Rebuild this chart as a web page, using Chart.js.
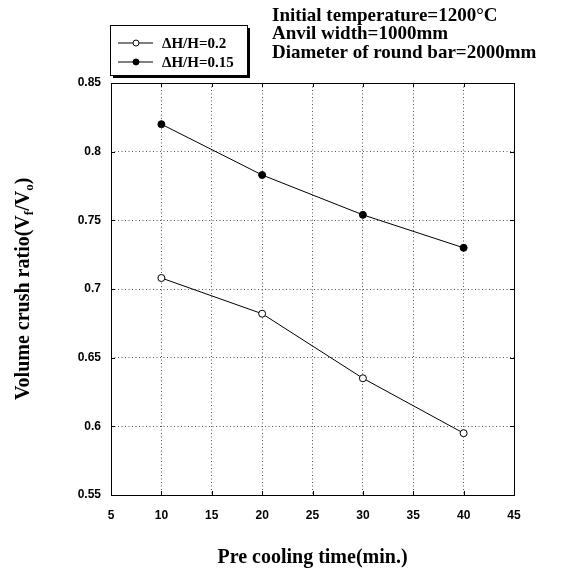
<!DOCTYPE html>
<html>
<head>
<meta charset="utf-8">
<script src="https://cdn.jsdelivr.net/npm/chart.js@4.4.1/dist/chart.umd.min.js"></script>
<style>
  html, body { margin: 0; padding: 0; background: #fff; }
  #wrap { width: 563px; height: 571px; }
</style>
</head>
<body>
<div id="wrap"><canvas id="chart" width="563" height="571"></canvas></div>
<script>
// data
const coolingTimes = [10, 20, 30, 40];
const ratioDH020 = [0.708, 0.682, 0.635, 0.595];
const ratioDH015 = [0.820, 0.783, 0.754, 0.730];
const seriesLabels = ['\u0394H/H=0.2', '\u0394H/H=0.15'];
const xRange = [5, 45];
const xStep = 5;
const yRange = [0.55, 0.85];
const yStep = 0.05;
const notes = ['Initial temperature=1200\u00B0C', 'Anvil width=1000mm', 'Diameter of round bar=2000mm'];

const serif = "'Liberation Serif', 'Times New Roman', serif";
const sans = "'Liberation Sans', Arial, sans-serif";

// box, inward ticks, legend, notes and y title
const decor = {
  id: 'decor',
  afterDraw(chart) {
    const ctx = chart.ctx;
    const a = chart.chartArea;
    const xs = chart.scales.x, ys = chart.scales.y;
    ctx.save();
    ctx.strokeStyle = '#000';
    ctx.lineWidth = 1;
    ctx.strokeRect(Math.round(a.left) + 0.5, Math.round(a.top) + 0.5,
      Math.round(a.right - a.left), Math.round(a.bottom - a.top));

    ctx.beginPath();
    xs.ticks.forEach(t => {
      const px = Math.round(xs.getPixelForValue(t.value)) + 0.5;
      ctx.moveTo(px, a.bottom); ctx.lineTo(px, a.bottom - 4);
      ctx.moveTo(px, a.top); ctx.lineTo(px, a.top + 4);
    });
    ys.ticks.forEach(t => {
      const py = Math.round(ys.getPixelForValue(t.value)) + 0.5;
      ctx.moveTo(a.left, py); ctx.lineTo(a.left + 4, py);
      ctx.moveTo(a.right, py); ctx.lineTo(a.right - 4, py);
    });
    ctx.stroke();

    // legend box with shadow
    const lx = 110, ly = 25, lw = 137, lh = 50;
    ctx.fillStyle = '#000';
    ctx.fillRect(lx + 3, ly + 3, lw, lh);
    ctx.fillStyle = '#fff';
    ctx.fillRect(lx, ly, lw, lh);
    ctx.strokeRect(lx + 0.5, ly + 0.5, lw, lh);
    const rows = [43, 62];
    chart.data.datasets.forEach((ds, i) => {
      const y = rows[i];
      ctx.beginPath();
      ctx.moveTo(118, y); ctx.lineTo(153, y);
      ctx.stroke();
      ctx.beginPath();
      ctx.arc(136, y, 3, 0, Math.PI * 2);
      ctx.fillStyle = ds.pointBackgroundColor;
      ctx.fill();
      ctx.stroke();
      ctx.fillStyle = '#000';
      ctx.font = 'bold 15px ' + serif;
      ctx.textBaseline = 'middle';
      ctx.textAlign = 'left';
      ctx.fillText(ds.label, 162, y + 1);
    });

    // condition notes
    ctx.font = 'bold 19px ' + serif;
    ctx.textBaseline = 'middle';
    notes.forEach((s, i) => ctx.fillText(s, 272, 16 + i * 18.5));

    // y axis title with subscripts
    ctx.translate(24, 400);
    ctx.rotate(-Math.PI / 2);
    const parts = [['Volume crush ratio(V', 0], ['f', 1], ['/V', 0], ['o', 1], [')', 0]];
    let x = 0;
    parts.forEach(([txt, sub]) => {
      ctx.font = sub ? 'bold 13px ' + serif : 'bold 20px ' + serif;
      ctx.fillText(txt, x, sub ? 6 : 0);
      x += ctx.measureText(txt).width;
    });
    ctx.restore();
  }
};

new Chart(document.getElementById('chart'), {
  type: 'line',
  data: {
    datasets: [
      {
        label: seriesLabels[0],
        data: coolingTimes.map((t, i) => ({ x: t, y: ratioDH020[i] })),
        borderColor: '#000',
        borderWidth: 1,
        pointRadius: 3.5,
        pointBorderWidth: 1,
        pointBackgroundColor: '#fff',
        pointBorderColor: '#000',
        tension: 0
      },
      {
        label: seriesLabels[1],
        data: coolingTimes.map((t, i) => ({ x: t, y: ratioDH015[i] })),
        borderColor: '#000',
        borderWidth: 1,
        pointRadius: 3.5,
        pointBorderWidth: 1,
        pointBackgroundColor: '#000',
        pointBorderColor: '#000',
        tension: 0
      }
    ]
  },
  options: {
    responsive: false,
    animation: false,
    layout: { padding: { top: 83, right: 49, bottom: 0, left: 0 } },
    plugins: { legend: { display: false }, tooltip: { enabled: false } },
    scales: {
      x: {
        type: 'linear',
        min: xRange[0], max: xRange[1],
        ticks: { stepSize: xStep, padding: 13, color: '#000', font: { family: sans, size: 12, weight: 'bold' } },
        grid: { color: '#555', lineWidth: 1, drawTicks: false },
        border: { display: false, dash: [1, 2.5] },
        title: {
          display: true, text: 'Pre cooling time(min.)', color: '#000',
          font: { family: serif, size: 20, weight: 'bold' },
          padding: { top: 1, bottom: 1 }
        },
        afterFit(scale) { scale.height = 76; }
      },
      y: {
        min: yRange[0], max: yRange[1],
        ticks: {
          stepSize: yStep, padding: 10, color: '#000',
          font: { family: sans, size: 12, weight: 'bold' },
          callback: v => String(+v.toFixed(2))
        },
        grid: { color: '#555', lineWidth: 1, drawTicks: false },
        border: { display: false, dash: [1, 2.5] },
        afterFit(scale) { scale.width = 111; }
      }
    }
  },
  plugins: [decor]
});
</script>
</body>
</html>
